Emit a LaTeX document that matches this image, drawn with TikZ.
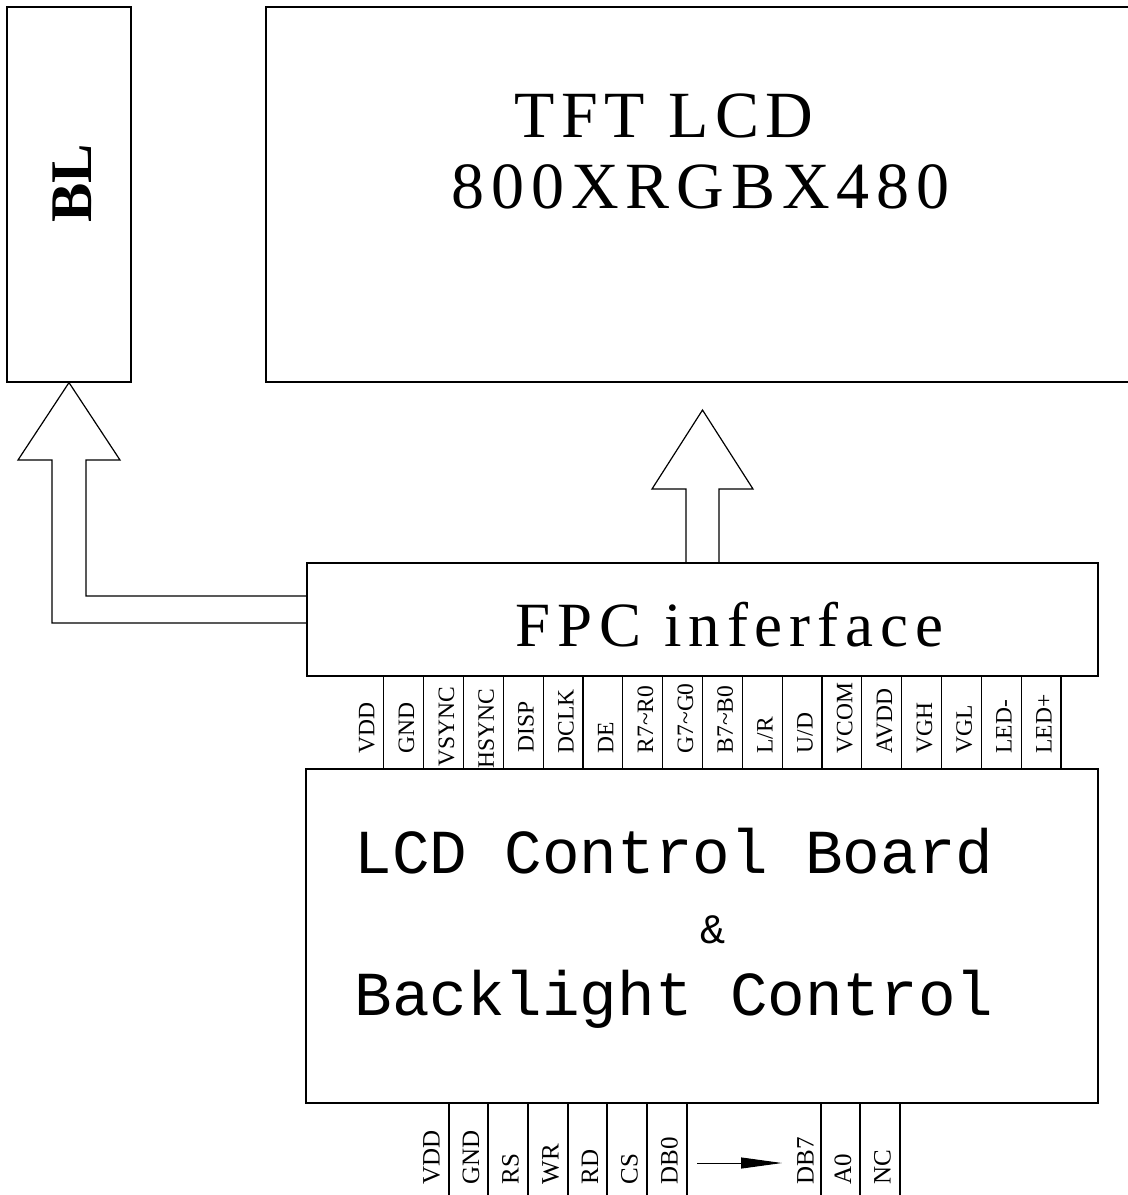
\documentclass[tikz,border=0pt]{standalone}
\usepackage{fontspec}
\setmainfont{Liberation Serif}
\newfontfamily\boardfont{Liberation Mono}
\usepackage{tikz}
\usetikzlibrary{arrows.meta,calc}

\begin{document}
\begin{tikzpicture}[
  x=1pt, y=-1pt,
  line width=1.2pt,
  box/.style={rectangle, draw, line width=1.2pt, inner sep=0pt},
  pinlabel/.style={rotate=90, anchor=west, inner sep=0pt,
                   font=\fontsize{23.5}{24}\selectfont, text height=15pt, text depth=0pt},
  hollow/.style={draw, line width=1.2pt, line join=miter},
]
\useasboundingbox (0,0) rectangle (1128,1195);

% Backlight and panel
\node[box, minimum width=124pt, minimum height=375pt] (bl) at (69,194.5) {};
\node[rotate=90, inner sep=0pt, font=\fontsize{59}{60}\selectfont\bfseries] (bltext) at (72,183) {BL};

\node[box, minimum width=874pt, minimum height=375pt] (tft) at (703,194.5) {};
\node[anchor=base west, inner sep=0pt,
      font=\fontsize{66}{68}\selectfont\addfontfeatures{LetterSpace=10}] (tftname) at (514,137) {TFT LCD};
\node[anchor=base west, inner sep=0pt,
      font=\fontsize{66}{68}\selectfont\addfontfeatures{LetterSpace=10.5}] (tftres) at (451,208) {800XRGBX480};

% FPC interface
\node[box, minimum width=791pt, minimum height=113pt] (fpc) at (702.5,619.5) {};
\node[anchor=base west, inner sep=0pt,
      font=\fontsize{63}{64}\selectfont\addfontfeatures{LetterSpace=11}] (fpctext) at (515,646) {FPC inferface};

% Control board
\node[box, minimum width=792pt, minimum height=334pt] (board) at (702,936) {};
\node[anchor=base west, inner sep=0pt, font=\fontsize{62.6}{64}\boardfont] (boardl1) at (354,873) {LCD Control Board};
\node[inner sep=0pt, font=\fontsize{42}{44}\boardfont] (boardamp) at (713,930) {\&};
\node[anchor=base west, inner sep=0pt, font=\fontsize{62.6}{64}\boardfont] (boardl2) at (354,1015) {Backlight Control};

% Pins between FPC and board
\foreach \pin/\yb [count=\i] in {VDD/754, GND/754, VSYNC/767, HSYNC/769, DISP/753, DCLK/754, DE/754,
    {R7\textasciitilde{}R0}/754, {G7\textasciitilde{}G0}/754, {B7\textasciitilde{}B0}/754, {L/R}/754, {U/D}/754,
    VCOM/754, AVDD/754, VGH/754, VGL/754, LED-/754, LED+/754} {
  \pgfmathsetmacro{\xc}{344+39.83*(\i-0.5)+3}
  \pgfmathsetmacro{\xr}{344+39.83*\i}
  \node[pinlabel] (top\i) at (\xc,\yb) {\pin};
  \draw (\xr,676) -- (\xr,769);
}

% Pins below the board
\foreach \pin/\xc [count=\i] in {VDD/432, GND/471.5, RS/511, WR/551, RD/590.5, CS/630, DB0/670,
    DB7/806, A0/843.5, NC/883} {
  \node[pinlabel, font=\fontsize{25}{26}\selectfont] (bot\i) at (\xc,1185) {\pin};
}
\foreach \x in {449,488,528,568,607,647,687,821,860,900}
  \draw (\x,1103) -- (\x,1195);

\coordinate (dbfrom) at (697,1163);
\coordinate (dbto) at (782,1163);
\draw[-{Triangle[length=41pt,width=11pt]}, line width=1pt] (dbfrom) -- (dbto);

% Hollow arrows
\draw[hollow] ([yshift=-3.5pt]fpc.west) -- (52,623) -- (52,460) -- (18,460) -- (bl.south)
  -- (120,460) -- (86,460) -- (86,596) -- ([yshift=23.5pt]fpc.west);
\coordinate (tfttip) at (702.5,410);
\draw[hollow] ([xshift=-16.5pt]fpc.north) -- (686,489) -- (652,489) -- (tfttip)
  -- (753,489) -- (719,489) -- ([xshift=16.5pt]fpc.north);
\end{tikzpicture}
\end{document}
